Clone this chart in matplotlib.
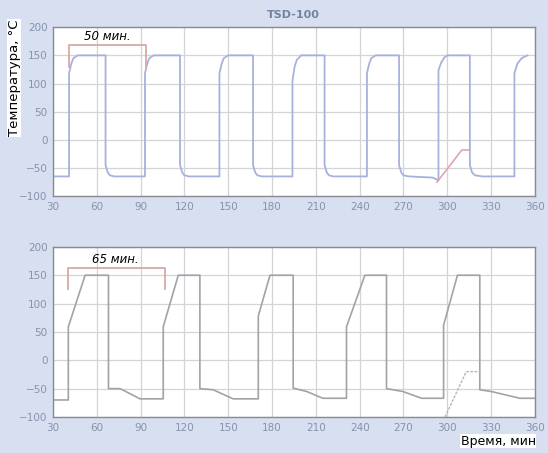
import matplotlib.pyplot as plt

# top chart (TSD-100, 50 min cycle)
top_x = [30, 41, 41, 42.5, 44, 47, 66, 66, 67.5, 69, 72,
         93, 93, 94.5, 96, 99, 117, 117, 118.5, 120, 123,
         144, 144, 145.5, 147, 150, 167, 167, 168.5, 170, 173,
         194, 194, 195.5, 197, 200, 216, 216, 217.5, 219, 222,
         245, 245, 246.5, 248, 251, 267, 267, 268.5, 270, 274,
         290, 294, 294, 296, 298, 300, 315.5, 315.5, 317, 319, 324,
         346, 346, 348, 351, 355]
top_y = [-65, -65, 118, 135, 145, 150, 150, -45, -58, -63, -65,
         -65, 118, 135, 145, 150, 150, -45, -58, -63, -65,
         -65, 118, 135, 145, 150, 150, -45, -58, -63, -65,
         -65, 105, 130, 142, 150, 150, -45, -58, -63, -65,
         -65, 118, 135, 145, 150, 150, -45, -58, -63, -65,
         -67, -72, 124, 138, 146, 150, 150, -45, -58, -63, -65,
         -65, 118, 135, 145, 150]
top_red_x = [293, 302, 310, 315.5]
top_red_y = [-75, -45, -18, -18]

# bottom chart (65 min cycle)
bot_x = [30, 40.5, 40.5, 52, 68, 68, 76, 89.6, 105.5,
         105.5, 115.8, 130.6, 130.6, 139.7, 153.4, 170.6,
         170.6, 178.6, 194.5, 194.5, 203.7, 214.8, 231,
         231, 243.6, 258.4, 258.4, 269.6, 282.4, 297.5,
         297.5, 307, 322.3, 322.3, 330, 349.7, 360]
bot_y = [-70, -70, 59, 150, 150, -50, -50, -68, -68,
         59, 150, 150, -50, -52, -68, -68,
         78, 150, 150, -49, -55, -67, -67,
         59, 150, 150, -50, -55, -67, -67,
         62, 150, 150, -52, -55, -67, -67]
bot_red_x = [298.5, 313, 322.3]
bot_red_y = [-100, -20, -20]

xticks = [30, 60, 90, 120, 150, 180, 210, 240, 270, 300, 330, 360]
yticks = [-100, -50, 0, 50, 100, 150, 200]

bg = '#d7dff0'
tick_color = '#8593ad'

fig = plt.figure(figsize=(5.48, 4.53), dpi=100, facecolor=bg)
ax1 = fig.add_axes([0.0967, 0.567, 0.8793, 0.373])
ax2 = fig.add_axes([0.0967, 0.0795, 0.8793, 0.3755])

for ax in (ax1, ax2):
    ax.set_xlim(30, 360)
    ax.set_ylim(-100, 200)
    ax.set_xticks(xticks)
    ax.set_yticks(yticks)
    ax.grid(True, color='#d4d4d8', linewidth=0.9)
    ax.set_axisbelow(True)
    ax.tick_params(length=0, labelsize=7.5, colors=tick_color, pad=4)
    for s in ax.spines.values():
        s.set_color('#8a8a90')
        s.set_linewidth(1.0)

ax1.plot(top_x, top_y, color='#a7b2dc', linewidth=1.3)
ax1.plot(top_red_x, top_red_y, color='#e0a4b8', linewidth=1.2)
ax2.plot(bot_x, bot_y, color='#a2a2a8', linewidth=1.2)
ax2.plot(bot_red_x, bot_red_y, color='#c0b0b4', linewidth=1.0, linestyle=(0, (2, 1)))

# brackets
ax1.plot([41, 41, 93.5, 93.5], [130, 168, 168, 130], color='#d8a8a8', linewidth=1.3)
ax1.text(67, 172, '50 мин.', style='italic', fontsize=8.5, ha='center', va='bottom')
ax2.plot([40.5, 40.5, 106.5, 106.5], [125, 162, 162, 125], color='#d8a8a8', linewidth=1.3)
ax2.text(73, 166, '65 мин.', style='italic', fontsize=8.5, ha='center', va='bottom')

fig.text(0.536, 0.967, 'TSD-100', fontsize=8, fontweight='bold', color='#7383a3',
         ha='center', va='center')
fig.text(0.026, 0.828, 'Температура, °C', rotation=90, fontsize=9.5, ha='center', va='center',
         bbox=dict(facecolor='white', edgecolor='none', pad=0.5))
fig.text(0.909, 0.026, 'Время, мин', fontsize=9, ha='center', va='center',
         bbox=dict(facecolor='white', edgecolor='none', pad=0.5))

fig.savefig('out.png', dpi=100, facecolor=bg)
